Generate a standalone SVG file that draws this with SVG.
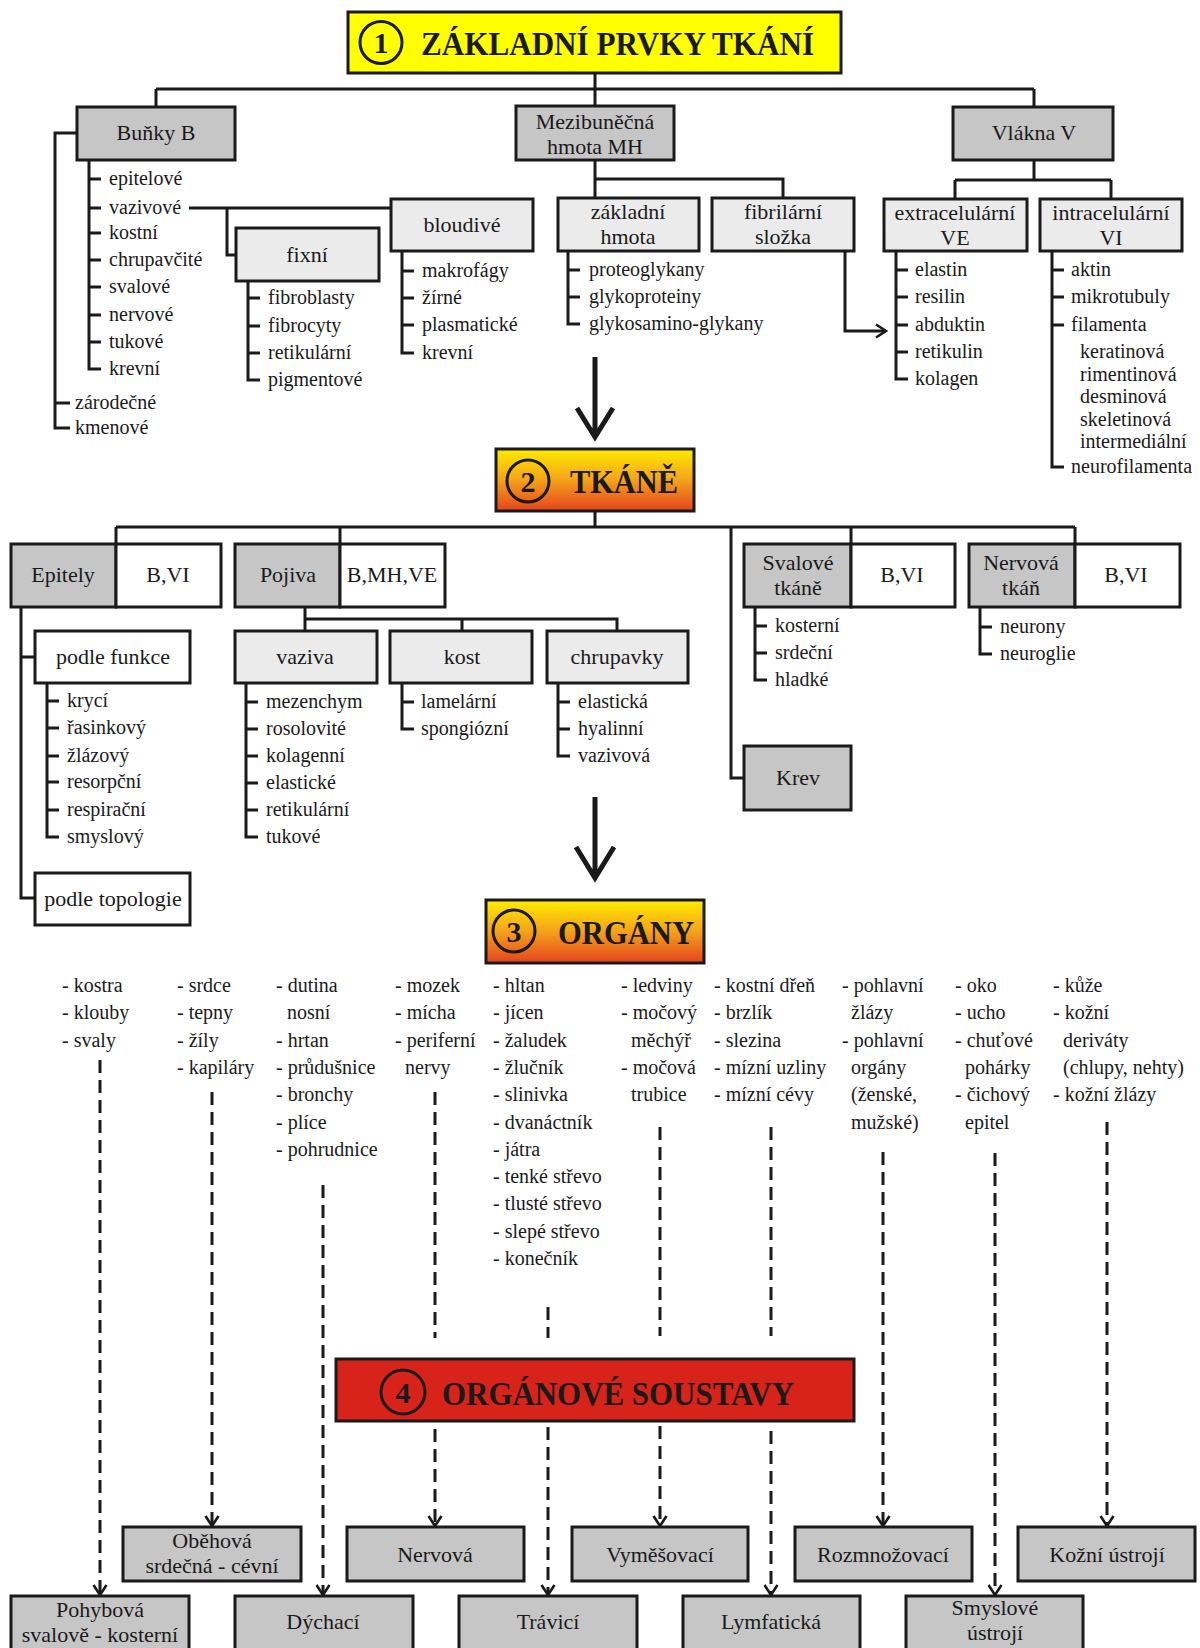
<svg xmlns="http://www.w3.org/2000/svg" width="1200" height="1648" viewBox="0 0 1200 1648">
<defs>
<linearGradient id="orange" x1="0" y1="0" x2="0" y2="1">
<stop offset="0" stop-color="#ffec00"/>
<stop offset="0.5" stop-color="#f4a21a"/>
<stop offset="1" stop-color="#e5421e"/>
</linearGradient>
<marker id="arr" viewBox="-1 -8 13 16" markerUnits="userSpaceOnUse" markerWidth="13" markerHeight="16" refX="10" refY="0" orient="auto">
<path d="M0,-6.5 L10,0 L0,6.5" fill="none" stroke="#1a1a1a" stroke-width="2.6"/>
</marker>
</defs>
<style>
text{font-family:"Liberation Serif","Times New Roman",serif;fill:#1a1a1a}
.t{font-size:20px}
.b{font-size:22px;text-anchor:middle}
.ttl{font-size:34px;font-weight:bold}
.num{font-size:30px;font-weight:bold;text-anchor:middle}
.box{stroke:#1a1a1a;stroke-width:3}
.g1{fill:#c6c6c6}
.g2{fill:#ebebeb}
.w{fill:#ffffff}
.ln{stroke:#1a1a1a;stroke-width:3;fill:none}
.big{stroke:#1a1a1a;stroke-width:5;fill:none}
.dash{stroke:#1a1a1a;stroke-width:3;fill:none;stroke-dasharray:13 7}
.circ{fill:none;stroke:#1a1a1a;stroke-width:3}
</style>
<rect x="0" y="0" width="1200" height="1648" fill="#ffffff"/>

<g id="connectors">
<!-- level 1 -->
<path class="ln" d="M595,73 V89 M156,89 H1034 M156,89 V107 M595,89 V106 M1034,89 V107"/>
<path class="ln" d="M76,133 H55 V428 H70 M55,403 H70"/>
<path class="ln" d="M89,160 V369 H101 M89,179 H101 M89,208 H101 M89,233 H101 M89,260 H101 M89,287 H101 M89,315 H101 M89,342 H101"/>
<path class="ln" d="M189,208 H391 M227,208 V255 H236"/>
<path class="ln" d="M248,281 V380 H260 M248,298 H260 M248,326 H260 M248,353 H260"/>
<path class="ln" d="M402,251 V353 H414 M402,271 H414 M402,298 H414 M402,325 H414"/>
<path class="ln" d="M595,160 V198 M595,179 H783 V198"/>
<path class="ln" d="M568,251 V324 H580 M568,270 H580 M568,297 H580"/>
<path class="ln" d="M845,251 V331 H886" marker-end="url(#arr)"/>
<path class="ln" d="M1034,160 V180 M955,180 H1111 M955,180 V199 M1111,180 V199"/>
<path class="ln" d="M896,251 V379 H908 M896,270 H908 M896,297 H908 M896,325 H908 M896,352 H908"/>
<path class="ln" d="M1052,251 V467 H1064 M1052,270 H1064 M1052,297 H1064 M1052,325 H1064"/>
<path class="big" d="M595,357 V436 M577,408 L595,437 L613,408"/>
<!-- level 2 -->
<path class="ln" d="M595,511 V527 M116,527 H1075 M116,527 V544 M340,527 V544 M731,527 V778 H744 M851,527 V544 M1075,527 V544"/>
<path class="ln" d="M21,607 V898 H35 M21,657 H35"/>
<path class="ln" d="M47,683 V837 H59 M47,701 H59 M47,728 H59 M47,756 H59 M47,782 H59 M47,810 H59"/>
<path class="ln" d="M305,607 V631 M305,619 H617 V631 M462,619 V631"/>
<path class="ln" d="M246,683 V837 H258 M246,702 H258 M246,729 H258 M246,756 H258 M246,783 H258 M246,810 H258"/>
<path class="ln" d="M402,683 V729 H414 M402,702 H414"/>
<path class="ln" d="M558,683 V756 H570 M558,702 H570 M558,729 H570"/>
<path class="ln" d="M755,607 V680 H767 M755,626 H767 M755,653 H767"/>
<path class="ln" d="M980,607 V654 H992 M980,627 H992"/>
<path class="big" d="M595,797 V877 M576,847 L595,878 L614,847"/>
<!-- level 3 to 4 (dashed) -->
<path class="dash" d="M100,1060 V1595" marker-end="url(#arr)"/>
<path class="dash" d="M212,1092 V1526" marker-end="url(#arr)"/>
<path class="dash" d="M323,1185 V1595" marker-end="url(#arr)"/>
<path class="dash" d="M435,1092 V1338"/>
<path class="dash" d="M435,1429 V1526" marker-end="url(#arr)"/>
<path class="dash" d="M548,1307 V1338"/>
<path class="dash" d="M548,1427 V1595" marker-end="url(#arr)"/>
<path class="dash" d="M660,1127 V1336"/>
<path class="dash" d="M660,1426 V1526" marker-end="url(#arr)"/>
<path class="dash" d="M771,1127 V1336"/>
<path class="dash" d="M771,1431 V1595" marker-end="url(#arr)"/>
<path class="dash" d="M883,1152 V1526" marker-end="url(#arr)"/>
<path class="dash" d="M995,1153 V1595" marker-end="url(#arr)"/>
<path class="dash" d="M1107,1122 V1526" marker-end="url(#arr)"/>
</g>

<!-- TITLE 1 -->
<g id="title1">
<rect class="box" x="348" y="12" width="493" height="61" fill="#ffff00"/>
<circle class="circ" cx="381" cy="42.5" r="21"/>
<text class="num" x="381" y="53">1</text>
<text class="ttl" x="421" y="55" textLength="393" lengthAdjust="spacingAndGlyphs">ZÁKLADNÍ PRVKY TKÁNÍ</text>
</g>

<g id="bunky">
<rect class="box g1" x="77" y="107" width="158" height="53"/>
<text class="b" x="156" y="140">Buňky B</text>
</g>
<g id="bunky-list">
<text class="t" x="109" y="185">epitelové</text>
<text class="t" x="109" y="214">vazivové</text>
<text class="t" x="109" y="239">kostní</text>
<text class="t" x="109" y="266">chrupavčité</text>
<text class="t" x="109" y="293">svalové</text>
<text class="t" x="109" y="321">nervové</text>
<text class="t" x="109" y="348">tukové</text>
<text class="t" x="109" y="375">krevní</text>
<text class="t" x="75" y="409">zárodečné</text>
<text class="t" x="75" y="434">kmenové</text>
</g>

<g id="fixni">
<rect class="box g2" x="236" y="228" width="143" height="53"/>
<text class="b" x="307" y="262">fixní</text>
<text class="t" x="268" y="304">fibroblasty</text>
<text class="t" x="268" y="332">fibrocyty</text>
<text class="t" x="268" y="359">retikulární</text>
<text class="t" x="268" y="386">pigmentové</text>
</g>

<g id="bloudive">
<rect class="box g2" x="391" y="199" width="142" height="52"/>
<text class="b" x="462" y="232">bloudivé</text>
<text class="t" x="422" y="277">makrofágy</text>
<text class="t" x="422" y="304">žírné</text>
<text class="t" x="422" y="331">plasmatické</text>
<text class="t" x="422" y="359">krevní</text>
</g>

<g id="mh">
<rect class="box g1" x="516" y="106" width="158" height="54"/>
<text class="b" x="595" y="129">Mezibuněčná</text>
<text class="b" x="595" y="154">hmota MH</text>
</g>

<g id="zakladni">
<rect class="box g2" x="558" y="198" width="141" height="53"/>
<text class="b" x="628" y="219">základní</text>
<text class="b" x="628" y="244">hmota</text>
<text class="t" x="589" y="276">proteoglykany</text>
<text class="t" x="589" y="303">glykoproteiny</text>
<text class="t" x="589" y="330">glykosamino-glykany</text>
</g>

<g id="fibrilarni">
<rect class="box g2" x="712" y="198" width="142" height="53"/>
<text class="b" x="783" y="219">fibrilární</text>
<text class="b" x="783" y="244">složka</text>
</g>

<g id="vlakna">
<rect class="box g1" x="953" y="107" width="160" height="53"/>
<text class="b" x="1034" y="140">Vlákna V</text>
</g>

<g id="ve">
<rect class="box g2" x="884" y="199" width="143" height="52"/>
<text class="b" x="955" y="220">extracelulární</text>
<text class="b" x="955" y="245">VE</text>
<text class="t" x="915" y="276">elastin</text>
<text class="t" x="915" y="303">resilin</text>
<text class="t" x="915" y="331">abduktin</text>
<text class="t" x="915" y="358">retikulin</text>
<text class="t" x="915" y="385">kolagen</text>
</g>

<g id="vi">
<rect class="box g2" x="1040" y="199" width="142" height="52"/>
<text class="b" x="1111" y="220">intracelulární</text>
<text class="b" x="1111" y="245">VI</text>
<text class="t" x="1071" y="276">aktin</text>
<text class="t" x="1071" y="303">mikrotubuly</text>
<text class="t" x="1071" y="331">filamenta</text>
<text class="t" x="1080" y="358">keratinová</text>
<text class="t" x="1080" y="381">rimentinová</text>
<text class="t" x="1080" y="403">desminová</text>
<text class="t" x="1080" y="426">skeletinová</text>
<text class="t" x="1080" y="448">intermediální</text>
<text class="t" x="1071" y="473">neurofilamenta</text>
</g>

<!-- TITLE 2 -->
<g id="title2">
<rect class="box" x="496" y="449" width="198" height="62" fill="url(#orange)"/>
<circle class="circ" cx="528" cy="481" r="21"/>
<text class="num" x="528" y="492">2</text>
<text class="ttl" x="570" y="493" textLength="108" lengthAdjust="spacingAndGlyphs">TKÁNĚ</text>
</g>

<g id="epitely">
<rect class="box g1" x="11" y="544" width="105" height="63"/>
<rect class="box w" x="116" y="544" width="105" height="63"/>
<text class="b" x="63" y="582">Epitely</text>
<text class="b" x="168" y="582">B,VI</text>
</g>

<g id="podle-funkce">
<rect class="box w" x="35" y="631" width="155" height="52"/>
<text class="b" x="113" y="664">podle funkce</text>
<text class="t" x="67" y="707">krycí</text>
<text class="t" x="67" y="734">řasinkový</text>
<text class="t" x="67" y="762">žlázový</text>
<text class="t" x="67" y="788">resorpční</text>
<text class="t" x="67" y="816">respirační</text>
<text class="t" x="67" y="843">smyslový</text>
</g>

<g id="podle-topologie">
<rect class="box w" x="35" y="873" width="155" height="52"/>
<text class="b" x="113" y="906">podle topologie</text>
</g>

<g id="pojiva">
<rect class="box g1" x="235" y="544" width="105" height="63"/>
<rect class="box w" x="340" y="544" width="105" height="63"/>
<text class="b" x="288" y="582">Pojiva</text>
<text class="b" x="392" y="582">B,MH,VE</text>
</g>

<g id="vaziva">
<rect class="box g2" x="235" y="631" width="142" height="52"/>
<text class="b" x="305" y="664">vaziva</text>
<text class="t" x="266" y="708">mezenchym</text>
<text class="t" x="266" y="735">rosolovité</text>
<text class="t" x="266" y="762">kolagenní</text>
<text class="t" x="266" y="789">elastické</text>
<text class="t" x="266" y="816">retikulární</text>
<text class="t" x="266" y="843">tukové</text>
</g>

<g id="kost">
<rect class="box g2" x="390" y="631" width="142" height="52"/>
<text class="b" x="462" y="664">kost</text>
<text class="t" x="421" y="708">lamelární</text>
<text class="t" x="421" y="735">spongiózní</text>
</g>

<g id="chrupavky">
<rect class="box g2" x="547" y="631" width="141" height="52"/>
<text class="b" x="617" y="664">chrupavky</text>
<text class="t" x="578" y="708">elastická</text>
<text class="t" x="578" y="735">hyalinní</text>
<text class="t" x="578" y="762">vazivová</text>
</g>

<g id="svalove">
<rect class="box g1" x="744" y="544" width="107" height="63"/>
<rect class="box w" x="851" y="544" width="104" height="63"/>
<text class="b" x="798" y="570">Svalové</text>
<text class="b" x="798" y="595">tkáně</text>
<text class="b" x="902" y="582">B,VI</text>
<text class="t" x="775" y="632">kosterní</text>
<text class="t" x="775" y="659">srdeční</text>
<text class="t" x="775" y="686">hladké</text>
</g>

<g id="nervova-tkan">
<rect class="box g1" x="969" y="544" width="106" height="63"/>
<rect class="box w" x="1075" y="544" width="105" height="63"/>
<text class="b" x="1021" y="570">Nervová</text>
<text class="b" x="1021" y="595">tkáň</text>
<text class="b" x="1126" y="582">B,VI</text>
<text class="t" x="1000" y="633">neurony</text>
<text class="t" x="1000" y="660">neuroglie</text>
</g>

<g id="krev">
<rect class="box g1" x="744" y="746" width="107" height="64"/>
<text class="b" x="798" y="785">Krev</text>
</g>

<!-- TITLE 3 -->
<g id="title3">
<rect class="box" x="486" y="900" width="218" height="63" fill="url(#orange)"/>
<circle class="circ" cx="514" cy="931" r="21"/>
<text class="num" x="514" y="942">3</text>
<text class="ttl" x="558" y="944" textLength="136" lengthAdjust="spacingAndGlyphs">ORGÁNY</text>
</g>

<g id="organy-pohybova">
<text class="t" x="62" y="992">- kostra</text>
<text class="t" x="62" y="1019">- klouby</text>
<text class="t" x="62" y="1047">- svaly</text>
</g>
<g id="organy-obehova">
<text class="t" x="177" y="992">- srdce</text>
<text class="t" x="177" y="1019">- tepny</text>
<text class="t" x="177" y="1047">- žíly</text>
<text class="t" x="177" y="1074">- kapiláry</text>
</g>
<g id="organy-dychaci">
<text class="t" x="276" y="992">- dutina</text>
<text class="t" x="287" y="1019">nosní</text>
<text class="t" x="276" y="1047">- hrtan</text>
<text class="t" x="276" y="1074">- průdušnice</text>
<text class="t" x="276" y="1101">- bronchy</text>
<text class="t" x="276" y="1129">- plíce</text>
<text class="t" x="276" y="1156">- pohrudnice</text>
</g>
<g id="organy-nervova">
<text class="t" x="395" y="992">- mozek</text>
<text class="t" x="395" y="1019">- mícha</text>
<text class="t" x="395" y="1047">- periferní</text>
<text class="t" x="405" y="1074">nervy</text>
</g>
<g id="organy-travici">
<text class="t" x="493" y="992">- hltan</text>
<text class="t" x="493" y="1019">- jícen</text>
<text class="t" x="493" y="1047">- žaludek</text>
<text class="t" x="493" y="1074">- žlučník</text>
<text class="t" x="493" y="1101">- slinivka</text>
<text class="t" x="493" y="1129">- dvanáctník</text>
<text class="t" x="493" y="1156">- játra</text>
<text class="t" x="493" y="1183">- tenké střevo</text>
<text class="t" x="493" y="1210">- tlusté střevo</text>
<text class="t" x="493" y="1238">- slepé střevo</text>
<text class="t" x="493" y="1265">- konečník</text>
</g>
<g id="organy-vymesovaci">
<text class="t" x="621" y="992">- ledviny</text>
<text class="t" x="621" y="1019">- močový</text>
<text class="t" x="631" y="1047">měchýř</text>
<text class="t" x="621" y="1074">- močová</text>
<text class="t" x="631" y="1101">trubice</text>
</g>
<g id="organy-lymfaticka">
<text class="t" x="714" y="992">- kostní dřeň</text>
<text class="t" x="714" y="1019">- brzlík</text>
<text class="t" x="714" y="1047">- slezina</text>
<text class="t" x="714" y="1074">- mízní uzliny</text>
<text class="t" x="714" y="1101">- mízní cévy</text>
</g>
<g id="organy-rozmnozovaci">
<text class="t" x="842" y="992">- pohlavní</text>
<text class="t" x="851" y="1019">žlázy</text>
<text class="t" x="842" y="1047">- pohlavní</text>
<text class="t" x="851" y="1074">orgány</text>
<text class="t" x="851" y="1101">(ženské,</text>
<text class="t" x="851" y="1129">mužské)</text>
</g>
<g id="organy-smyslove">
<text class="t" x="955" y="992">- oko</text>
<text class="t" x="955" y="1019">- ucho</text>
<text class="t" x="955" y="1047">- chuťové</text>
<text class="t" x="965" y="1074">pohárky</text>
<text class="t" x="955" y="1101">- čichový</text>
<text class="t" x="965" y="1129">epitel</text>
</g>
<g id="organy-kozni">
<text class="t" x="1053" y="992">- kůže</text>
<text class="t" x="1053" y="1019">- kožní</text>
<text class="t" x="1063" y="1047">deriváty</text>
<text class="t" x="1063" y="1074">(chlupy, nehty)</text>
<text class="t" x="1053" y="1101">- kožní žlázy</text>
</g>

<!-- TITLE 4 -->
<g id="title4">
<rect class="box" x="336" y="1359" width="518" height="62" fill="#d8231b"/>
<circle class="circ" cx="403" cy="1392" r="22"/>
<text class="num" x="403" y="1403">4</text>
<text class="ttl" x="442" y="1405" textLength="352" lengthAdjust="spacingAndGlyphs">ORGÁNOVÉ SOUSTAVY</text>
</g>

<g id="obehova">
<rect class="box g1" x="123" y="1527" width="178" height="54"/>
<text class="b" x="212" y="1548">Oběhová</text>
<text class="b" x="212" y="1573">srdečná - cévní</text>
</g>
<g id="nervova">
<rect class="box g1" x="347" y="1527" width="177" height="54"/>
<text class="b" x="435" y="1562">Nervová</text>
</g>
<g id="vymesovaci">
<rect class="box g1" x="572" y="1527" width="176" height="54"/>
<text class="b" x="660" y="1562">Vyměšovací</text>
</g>
<g id="rozmnozovaci">
<rect class="box g1" x="795" y="1527" width="177" height="54"/>
<text class="b" x="883" y="1562">Rozmnožovací</text>
</g>
<g id="kozni">
<rect class="box g1" x="1018" y="1527" width="177" height="54"/>
<text class="b" x="1107" y="1562">Kožní ústrojí</text>
</g>
<g id="pohybova">
<rect class="box g1" x="11" y="1596" width="178" height="62"/>
<text class="b" x="100" y="1617">Pohybová</text>
<text class="b" x="100" y="1642">svalově - kosterní</text>
</g>
<g id="dychaci">
<rect class="box g1" x="235" y="1596" width="178" height="62"/>
<text class="b" x="323" y="1629">Dýchací</text>
</g>
<g id="travici">
<rect class="box g1" x="459" y="1596" width="178" height="62"/>
<text class="b" x="548" y="1629">Trávicí</text>
</g>
<g id="lymfaticka">
<rect class="box g1" x="683" y="1596" width="177" height="62"/>
<text class="b" x="771" y="1629">Lymfatická</text>
</g>
<g id="smyslove">
<rect class="box g1" x="906" y="1596" width="177" height="62"/>
<text class="b" x="995" y="1615">Smyslové</text>
<text class="b" x="995" y="1640">ústrojí</text>
</g>
</svg>
